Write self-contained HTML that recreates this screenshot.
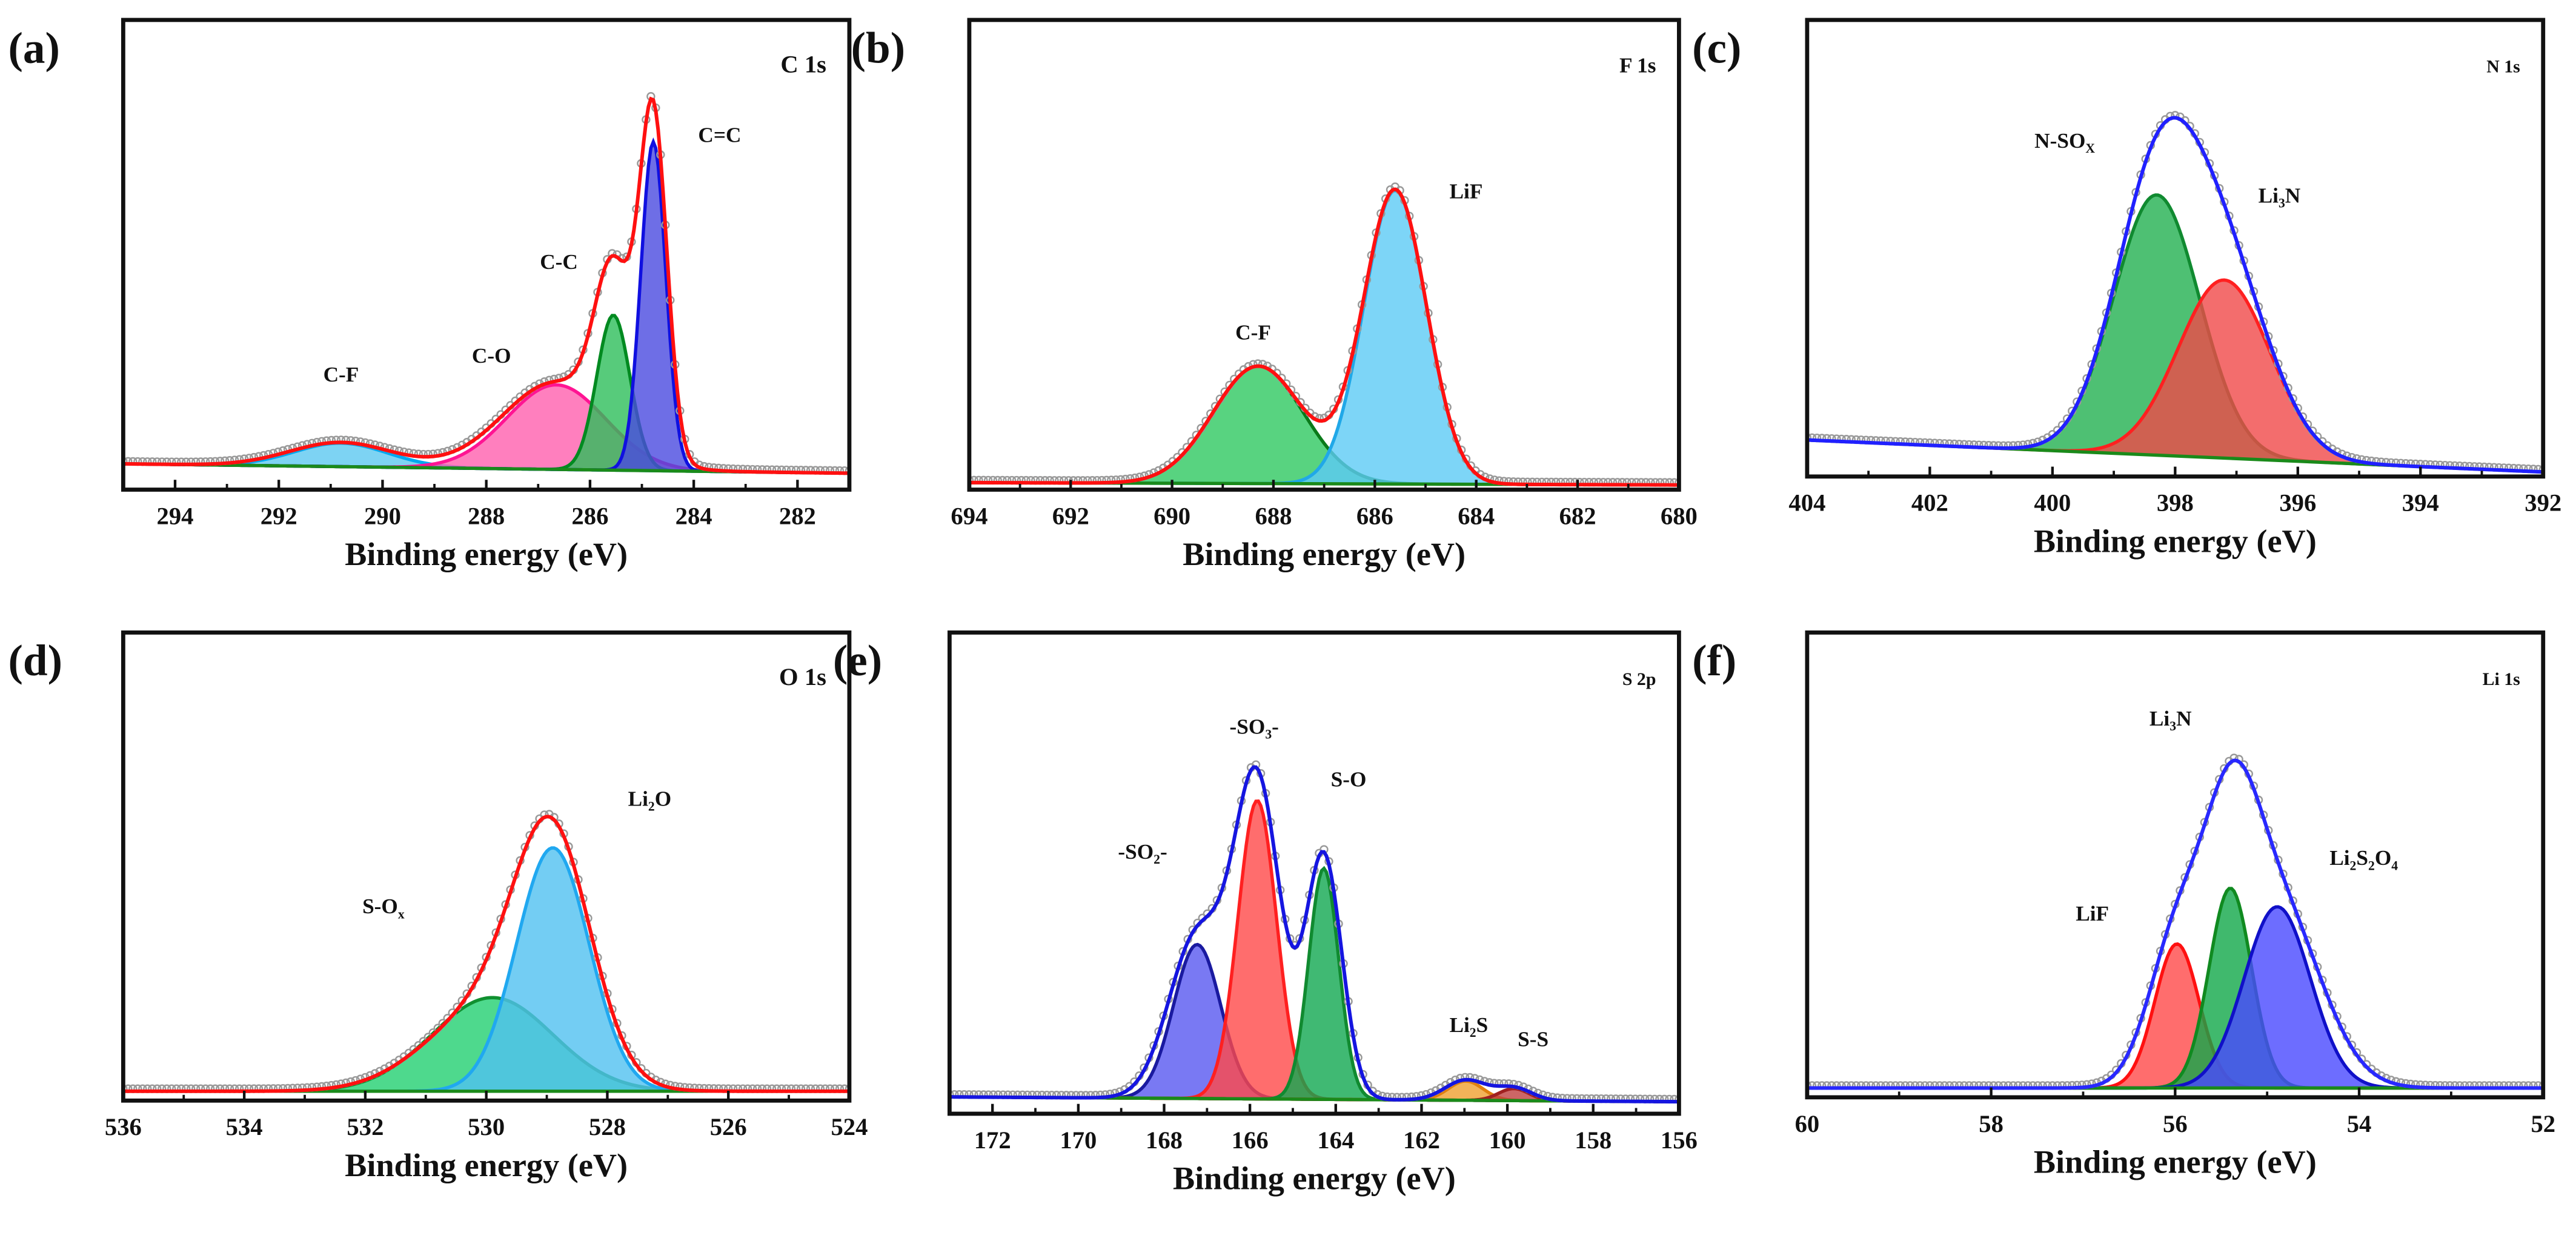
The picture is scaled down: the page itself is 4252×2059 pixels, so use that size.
<!DOCTYPE html>
<html><head><meta charset="utf-8">
<style>
html,body{margin:0;padding:0;background:#fff;}
svg{display:block;}
text{font-family:"Liberation Serif",serif;font-weight:bold;fill:#111;}
</style></head>
<body>
<svg id="fig" width="4252" height="2059" viewBox="0 0 1568 759" xmlns="http://www.w3.org/2000/svg"></svg>
<script>
// ---- data (x in eV, heights as fraction of plot height) ----
const aNames=["C-F","C-O","C-C","C=C"];
const aCenters=[290.8,286.65,285.55,284.78];
const aHeights=[0.05,0.18,0.33,0.70];
const aWidths=[0.9,0.95,0.32,0.24];
const aBase=[0.055,0.035];
const aEnv=[1.03,1.1];
const aTicks=[294,292,290,288,286,284,282];

const bNames=["C-F","LiF"];
const bCenters=[688.3,685.6];
const bHeights=[0.25,0.625];
const bWidths=[0.89,0.62];
const bBase=[0.015,0.01];
const bEnv=[1.0,1.0];
const bTicks=[694,692,690,688,686,684,682,680];

const cNames=["N-SOx","Li3N"];
const cCenters=[398.3,397.2];
const cHeights=[0.57,0.39];
const cWidths=[0.7,0.75];
const cBase=[0.08,0.01];
const cEnv=[1.0,1.0];
const cTicks=[404,402,400,398,396,394,392];

const dNames=["S-Ox","Li2O"];
const dCenters=[529.9,528.9];
const dHeights=[0.20,0.52];
const dWidths=[1.0,0.6];
const dBase=[0.02,0.02];
const dEnv=[0.9,1.05];
const dTicks=[536,534,532,530,528,526,524];

const eNames=["-SO2-","-SO3-","S-O","Li2S","S-S"];
const eCenters=[167.23,165.83,164.28,160.97,159.85];
const eHeights=[0.32,0.62,0.48,0.04,0.025];
const eWidths=[0.55,0.45,0.35,0.4,0.35];
const eBase=[0.035,0.025];
const eEnv=[1.05,1.2];
const eTicks=[172,170,168,166,164,162,160,158,156];

const fNames=["LiF","Li3N","Li2S2O4"];
const fCenters=[55.98,55.4,54.89];
const fHeights=[0.31,0.43,0.39];
const fWidths=[0.24,0.23,0.36];
const fBase=[0.02,0.02];
const fEnv=[1.0,1.3];
const fTicks=[60,58,56,54,52];

const NS="http://www.w3.org/2000/svg";
const svg=document.getElementById('fig');
function mk(tag,attrs,parent){const e=document.createElementNS(NS,tag);for(const k in attrs)e.setAttribute(k,attrs[k]);(parent||svg).appendChild(e);return e;}

const panels=[
 {id:"a",tag:"(a)",tagX:5,title:"C 1s",titleSize:15,x0:75,x1:517,y0:12,y1:298,xmin:295,xmax:281,names:aNames,c:aCenters,h:aHeights,w:aWidths,base:aBase,env:aEnv,ticks:aTicks,
  fills:["#5cc8f0","#ff5fae","#2dbe5a","#4a4ae0"],lines:["#00a8f0","#ff1493","#008a20","#1010e0"],envc:"#ff1010",
  labels:[[290.8,0.23],[287.9,0.27],[286.6,0.47],[283.5,0.74]],labelTxt:["C-F","C-O","C-C","C=C"]},
 {id:"b",tag:"(b)",tagX:518,title:"F 1s",titleSize:13,x0:590,x1:1022,y0:12,y1:298,xmin:694,xmax:680,names:bNames,c:bCenters,h:bHeights,w:bWidths,base:bBase,env:bEnv,ticks:bTicks,
  fills:["#2ec860","#5ccaf5"],lines:["#0a7a1a","#20a8e8"],envc:"#ff1010",
  labels:[[688.4,0.32],[684.2,0.62]],labelTxt:["C-F","LiF"]},
 {id:"c",tag:"(c)",tagX:1030,title:"N 1s",titleSize:11,x0:1100,x1:1548,y0:12,y1:290,xmin:404,xmax:392,names:cNames,c:cCenters,h:cHeights,w:cWidths,base:cBase,env:cEnv,ticks:cTicks,
  fills:["#22b050","#f04848"],lines:["#108a30","#ff2020"],envc:"#2020ff",
  labels:[[399.8,0.72],[396.3,0.6]],labelTxt:["N-SOx","Li3N"]},
 {id:"d",tag:"(d)",tagX:5,title:"O 1s",titleSize:15,x0:75,x1:517,y0:385,y1:670,xmin:536,xmax:524,names:dNames,c:dCenters,h:dHeights,w:dWidths,base:dBase,env:dEnv,ticks:dTicks,
  fills:["#22d070","#50c0f0"],lines:["#109030","#20a8f0"],envc:"#ff1010",
  labels:[[531.7,0.4],[527.3,0.63]],labelTxt:["S-Ox","Li2O"]},
 {id:"e",tag:"(e)",tagX:507,title:"S 2p",titleSize:11,x0:578,x1:1022,y0:385,y1:678,xmin:173.0,xmax:156,names:eNames,c:eCenters,h:eHeights,w:eWidths,base:eBase,env:eEnv,ticks:eTicks,
  fills:["#5858f0","#ff4848","#10a850","#f0a030","#c04040"],lines:["#1a1aa0","#ff2020","#108a30","#e08010","#a02020"],envc:"#1515e0",
  labels:[[168.5,0.53],[165.9,0.79],[163.7,0.68],[160.9,0.17],[159.4,0.14]],labelTxt:["-SO2-","-SO3-","S-O","Li2S","S-S"]},
 {id:"f",tag:"(f)",tagX:1030,title:"Li 1s",titleSize:11,x0:1100,x1:1548,y0:385,y1:668,xmin:60,xmax:52,names:fNames,c:fCenters,h:fHeights,w:fWidths,base:fBase,env:fEnv,ticks:fTicks,
  fills:["#ff4848","#10a848","#4848ff"],lines:["#ff1010","#108a20","#1010c8"],envc:"#2828ff",
  labels:[[56.05,0.8],[56.9,0.38],[53.95,0.5]],labelTxt:["Li3N","LiF","Li2S2O4"]}
];

function labelMarkup(t){
  const subs={"N-SOx":["N-SO","X"],"Li3N":["Li","3","N"],"Li2O":["Li","2","O"],"S-Ox":["S-O","x"],"-SO2-":["-SO","2","-"],"-SO3-":["-SO","3","-"],"Li2S":["Li","2","S"],"Li2S2O4":["Li","2","S","2","O","4"]};
  return subs[t]||[t];
}

panels.forEach(p=>{
  const g=mk('g',{});
  
  
  const sx=v=>p.x0+(v-p.xmin)/(p.xmax-p.xmin)*(p.x1-p.x0);
  const sy=f=>p.y1-f*(p.y1-p.y0);
  const base=v=>p.base[0]+(p.base[1]-p.base[0])*(v-p.xmin)/(p.xmax-p.xmin);
  const gauss=(i,v,wf)=>p.h[i]*Math.exp(-Math.pow(v-p.c[i],2)/(2*Math.pow(p.w[i]*(wf||1),2)));
  const N=300, xs=[];
  for(let k=0;k<=N;k++) xs.push(p.xmin+(p.xmax-p.xmin)*k/N);
  const clip=mk('clipPath',{id:'clip'+p.id},g);
  mk('rect',{x:p.x0,y:p.y0,width:p.x1-p.x0,height:p.y1-p.y0},clip);
  const pg=mk('g',{'clip-path':'url(#clip'+p.id+')'},g);
  p.c.forEach((c,i)=>{
    let top='',bot='';
    xs.forEach((v,k)=>{top+=(k?'L':'M')+sx(v).toFixed(2)+','+sy(base(v)+gauss(i,v)).toFixed(2);});
    for(let k=xs.length-1;k>=0;k--) bot+='L'+sx(xs[k]).toFixed(2)+','+sy(base(xs[k])).toFixed(2);
    const area=mk('path',{d:top+bot+'Z',fill:p.fills[i],'fill-opacity':0.8,stroke:'none'},pg);
    
    
    const ln=mk('path',{d:top,fill:'none',stroke:p.lines[i],'stroke-width':2},pg);
    
    
  });
  const bl=mk('path',{d:'M'+sx(p.xmin)+','+sy(base(p.xmin))+'L'+sx(p.xmax)+','+sy(base(p.xmax)),stroke:'#1a8a1a','stroke-width':2},pg);
  
  
  const env=v=>{let s=0;p.c.forEach((c,i)=>s+=gauss(i,v,p.env[1]));return base(v)+p.env[0]*s;};
  for(let k=0;k<=N;k+=2){
    const v=xs[k];
    const pt=mk('circle',{cx:sx(v),cy:sy(env(v))-1.5,r:2.2,fill:'none',stroke:'#999','stroke-width':0.9},pg);
    
    
  }
  let ed='';xs.forEach((v,k)=>{ed+=(k?'L':'M')+sx(v).toFixed(2)+','+sy(env(v)).toFixed(2);});
  const el=mk('path',{d:ed,fill:'none',stroke:p.envc,'stroke-width':2.2},pg);
  
  
  const fr=mk('rect',{x:p.x0,y:p.y0,width:p.x1-p.x0,height:p.y1-p.y0,fill:'none',stroke:'#111','stroke-width':2.5},g);
  
  
  p.ticks.forEach((t,i)=>{
    const x=sx(t);
    mk('line',{x1:x,x2:x,y1:p.y1,y2:p.y1-6,stroke:'#111','stroke-width':1.6},g);
    if(i<p.ticks.length-1){const xm=sx(t+(p.ticks[i+1]-t)/2);mk('line',{x1:xm,x2:xm,y1:p.y1,y2:p.y1-3.5,stroke:'#111','stroke-width':1.4},g);}
    const tl=mk('text',{x:x,y:p.y1+21,'font-size':15,'text-anchor':'middle'},g);
    tl.textContent=t;
    
    
  });
  const xl=mk('text',{x:(p.x0+p.x1)/2,y:p.y1+46,'font-size':20,'text-anchor':'middle'},g);
  xl.textContent='Binding energy (eV)';
  
  
  const tg=mk('text',{x:p.tagX,y:p.y0+26,'font-size':27},g);
  tg.textContent=p.tag;
  
  
  const ti=mk('text',{x:p.x1-14,y:p.y0+32,'font-size':p.titleSize,'text-anchor':'end'},g);
  ti.textContent=p.title;
  
  
  p.labels.forEach((L,i)=>{
    const t=mk('text',{x:sx(L[0]),y:sy(L[1]),'font-size':13,'text-anchor':'middle'},g);
    
    
    const parts=labelMarkup(p.labelTxt[i]);
    parts.forEach((s,j)=>{
      const sp=mk('tspan',{},t);
      sp.textContent=s;
      if(j%2===1){sp.setAttribute('font-size','8');sp.setAttribute('dy','3');}
      else if(j>0){sp.setAttribute('dy','-3');}
    });
  });
});
</script>
</body></html>
